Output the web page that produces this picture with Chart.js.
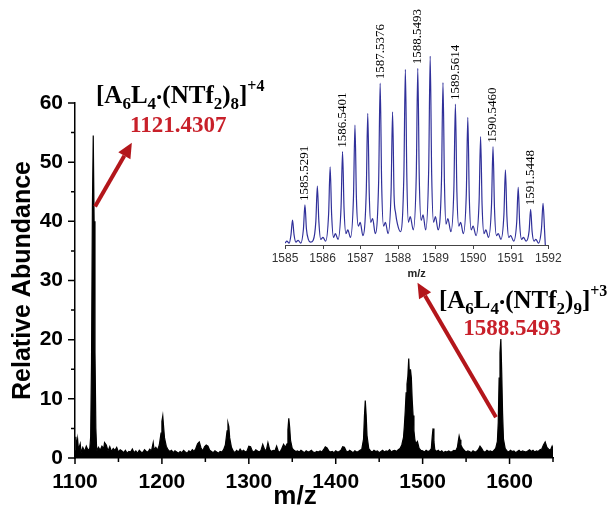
<!DOCTYPE html>
<html>
<head>
<meta charset="utf-8">
<script src="https://cdn.jsdelivr.net/npm/chart.js@4.4.0/dist/chart.umd.min.js"></script>
<style>
  html, body { margin: 0; padding: 0; background: #fff; }
  #wrap { position: relative; width: 611px; height: 506px; }
  #main { position: absolute; left: 0; top: 0; }
  #inset { position: absolute; left: 250px; top: 0; }
</style>
</head>
<body>
<div id="wrap">
  <canvas id="main" width="611" height="506"></canvas>
  <canvas id="inset" width="330" height="290"></canvas>
</div>
<script>
// main spectrum (m/z, relative abundance)
const mainMz = [
  1100, 1101, 1102, 1103, 1104, 1106, 1107, 1109, 1111, 1113, 1115, 1117,
  1118, 1119, 1120, 1121, 1122, 1123, 1124, 1125,
  1127, 1129, 1131, 1133, 1134, 1136, 1138, 1140, 1142, 1144, 1146, 1148,
  1150, 1152, 1154, 1156, 1158, 1160, 1162, 1164, 1166, 1168, 1170, 1172,
  1174, 1176, 1178, 1180, 1182, 1184, 1186, 1188, 1190, 1191, 1193, 1195,
  1197, 1199, 1200, 1201, 1202, 1203, 1205, 1207, 1209, 1211, 1213, 1215,
  1217, 1219, 1221, 1223, 1225, 1227, 1229, 1231, 1233, 1235, 1237, 1239,
  1241, 1243, 1245, 1247, 1249, 1251, 1253, 1255, 1257, 1259, 1261, 1263,
  1265, 1267, 1269, 1271, 1273, 1275, 1276, 1277, 1278, 1280, 1282, 1284,
  1286, 1288, 1290, 1292, 1294, 1296, 1298, 1300, 1302, 1304, 1306, 1308,
  1310, 1312, 1314, 1316, 1318, 1320, 1322, 1324, 1326, 1328, 1330, 1332,
  1334, 1336, 1338, 1340, 1342, 1344, 1345, 1346, 1347, 1348, 1350, 1352,
  1354, 1356, 1358, 1360, 1362, 1364, 1366, 1368, 1370, 1372, 1374, 1376,
  1378, 1380, 1382, 1384, 1386, 1388, 1390, 1392, 1394, 1396, 1398, 1400,
  1402, 1404, 1406, 1408, 1410, 1412, 1414, 1416, 1418, 1420, 1422, 1424,
  1426, 1428, 1430, 1432, 1433, 1434, 1435, 1436, 1438, 1440, 1442, 1444,
  1446, 1448, 1450, 1452, 1454, 1456, 1458, 1460, 1462, 1464, 1466, 1468,
  1470, 1472, 1474, 1476, 1478, 1479, 1480, 1481, 1482, 1483, 1484, 1485,
  1486, 1487, 1488, 1489, 1490, 1491, 1492, 1494, 1496, 1498, 1500, 1502,
  1504, 1506, 1508, 1510, 1511, 1512, 1513, 1514, 1516, 1518, 1520, 1522,
  1524, 1526, 1528, 1530, 1532, 1534, 1536, 1538, 1540, 1541, 1542, 1543,
  1544, 1546, 1548, 1550, 1552, 1554, 1556, 1558, 1560, 1562, 1564, 1566,
  1568, 1570, 1572, 1574, 1576, 1578, 1580, 1582, 1584, 1586, 1587, 1588,
  1589, 1590, 1591, 1592, 1593, 1595, 1597, 1599, 1601, 1603, 1605, 1607,
  1609, 1611, 1613, 1615, 1617, 1619, 1621, 1623, 1625, 1627, 1629, 1631,
  1633, 1635, 1637, 1639, 1641, 1643, 1645, 1647, 1649, 1650
];
const mainAbundance = [
  1.2, 3.6, 2.0, 3.2, 1.4, 2.4, 0.9, 1.8, 1.1, 2.0, 1.3, 1.6,
  3.5, 16, 42, 54.5, 40, 18, 5, 1.2,
  1.8, 1.3, 2.0, 1.6, 2.6, 2.2, 1.2, 1.9, 1.1, 1.6, 1.3, 1.8,
  1.0, 1.4, 1.2, 0.9, 1.3, 0.8, 1.1, 1.0, 1.5, 0.9, 1.2, 0.8,
  1.3, 1.0, 0.9, 1.4, 1.1, 1.0, 1.5, 1.2, 2.6, 1.4, 1.8, 1.3,
  2.2, 4.2, 6.2, 7.1, 5.2, 3.4, 2.0, 1.4, 1.1, 1.3, 0.9, 1.2,
  1.0, 0.8, 1.1, 0.9, 1.3, 1.0, 0.8, 1.2, 1.0, 1.4, 1.1, 1.6,
  2.4, 2.7, 1.7, 1.2, 1.9, 2.2, 2.0, 1.3, 1.1, 0.9, 1.2, 1.0,
  0.8, 1.1, 1.0, 1.4, 2.2, 4.6, 5.9, 5.3, 3.4, 1.8, 1.2, 0.9,
  1.3, 1.0, 1.5, 1.1, 1.3, 1.0, 1.2, 2.0, 1.9, 1.2, 1.0, 1.4,
  1.2, 1.0, 1.3, 2.3, 1.5, 1.2, 2.6, 1.4, 1.1, 1.3, 1.2, 2.0,
  1.1, 1.0, 1.6, 2.3, 1.8, 2.4, 4.8, 6.7, 5.2, 3.0, 1.6, 1.3,
  1.1, 1.2, 1.0, 1.3, 1.1, 0.9, 1.2, 1.0, 1.1, 1.3, 1.0, 0.9,
  1.1, 1.0, 1.2, 1.0, 1.4, 1.9, 1.7, 1.2, 1.0, 1.1, 0.9, 1.2,
  1.0, 1.1, 1.3, 1.9, 1.8, 1.2, 1.0, 1.3, 1.1, 0.9, 1.2, 1.0,
  1.1, 1.3, 1.5, 3.2, 7.0, 9.7, 7.3, 3.8, 1.6, 1.2, 1.0, 1.3,
  1.1, 1.2, 0.9, 1.1, 1.3, 1.0, 1.2, 1.1, 1.4, 1.0, 1.2, 1.3,
  1.1, 1.4, 1.6, 2.2, 3.5, 5.5, 8.0, 11.0, 12.5, 13.8, 16.8, 13.2,
  15.0, 13.6, 9.8, 7.2, 4.6, 3.2, 2.4, 2.8, 1.6, 1.3, 1.2, 1.0,
  1.3, 1.1, 1.2, 1.6, 3.6, 5.0, 2.8, 1.4, 1.1, 1.3, 1.0, 1.2,
  0.9, 1.1, 1.0, 1.2, 1.0, 1.1, 1.3, 1.2, 1.8, 2.8, 3.7, 3.1,
  2.2, 1.6, 1.3, 1.0, 1.2, 1.1, 0.9, 1.2, 1.0, 1.1, 1.4, 2.0,
  1.6, 1.1, 1.0, 1.3, 1.1, 1.2, 1.0, 1.3, 1.6, 2.8, 6.0, 13.5,
  17.8, 20.1, 14.5, 7.5, 3.2, 1.6, 1.2, 1.0, 1.3, 1.1, 1.2, 0.9,
  1.1, 1.3, 1.0, 1.2, 1.1, 1.0, 1.2, 1.4, 1.1, 1.3, 1.0, 1.2,
  1.1, 1.4, 1.5, 2.2, 2.7, 1.8, 1.5, 1.3, 2.0, 1.6
];

// isotope pattern of the +3 ion (inset)
const insetMz = [
  1585.00, 1585.05, 1585.11, 1585.16, 1585.20, 1585.24, 1585.29, 1585.35, 1585.42,
  1585.49, 1585.53, 1585.57, 1585.62, 1585.68, 1585.75,
  1585.82, 1585.86, 1585.90, 1585.95, 1586.01, 1586.08,
  1586.16, 1586.20, 1586.24, 1586.29, 1586.34, 1586.41,
  1586.49, 1586.53, 1586.57, 1586.62, 1586.67, 1586.74,
  1586.82, 1586.86, 1586.90, 1586.95, 1587.00, 1587.07,
  1587.16, 1587.20, 1587.24, 1587.28, 1587.33, 1587.40,
  1587.49, 1587.53, 1587.57, 1587.62, 1587.67, 1587.74,
  1587.82, 1587.86, 1587.90, 1587.94, 1587.99, 1588.07,
  1588.16, 1588.20, 1588.24, 1588.28, 1588.33, 1588.41,
  1588.49, 1588.53, 1588.57, 1588.62, 1588.67, 1588.74,
  1588.82, 1588.86, 1588.90, 1588.95, 1589.00, 1589.07,
  1589.16, 1589.20, 1589.24, 1589.28, 1589.33, 1589.41,
  1589.49, 1589.53, 1589.57, 1589.62, 1589.67, 1589.74,
  1589.82, 1589.86, 1589.90, 1589.95, 1590.00, 1590.08,
  1590.16, 1590.20, 1590.24, 1590.29, 1590.34, 1590.41,
  1590.49, 1590.53, 1590.57, 1590.62, 1590.67, 1590.74,
  1590.82, 1590.86, 1590.90, 1590.95, 1591.00, 1591.08,
  1591.16, 1591.20, 1591.24, 1591.29, 1591.34, 1591.41,
  1591.49, 1591.53, 1591.57, 1591.62, 1591.67, 1591.74,
  1591.82, 1591.86, 1591.90, 1591.92
];
const insetAbundance = [
  1, 2, 1, 5.5, 13.2, 5.5, 1.5, 2.5, 1,
  8.5, 21.2, 8.5, 3, 1.5, 2.5,
  12.5, 31.2, 12.5, 3, 4, 2,
  16.5, 41.4, 16, 4, 6, 3,
  20, 49.4, 19, 6, 8, 4,
  25, 63.5, 24, 10, 12, 5,
  28, 69.7, 27, 12, 14, 6,
  34, 85.6, 32, 10, 12, 6,
  28, 70.5, 26, 17, 11, 7,
  37, 93, 35, 12, 15, 8,
  37, 93.5, 35, 13, 16, 8,
  40, 100, 37, 12, 15, 8,
  34, 85.9, 32, 11, 14, 7,
  30, 74.6, 28, 10, 12, 6,
  27, 67.6, 25, 8, 10, 5,
  23, 57.3, 21, 6, 8, 4,
  21, 52, 19, 5, 6, 3,
  16, 39.7, 15, 4, 5, 2,
  12, 30.5, 11, 3, 4, 2,
  7.5, 18.9, 7, 2, 3, 1,
  9, 22.1, 8, 0
];
const insetPeakMz = [1585.53, 1586.53, 1587.53, 1588.53, 1589.53, 1590.53, 1591.53];
const insetPeakText = ['1585.5291', '1586.5401', '1587.5376', '1588.5493', '1589.5614', '1590.5460', '1591.5448'];

// ion annotations: formula pieces (0 normal, 1 subscript, 2 superscript)
const ion1Formula = [['[A', 0], ['6', 1], ['L', 0], ['4', 1], ['.', 0], ['(NTf', 0], ['2', 1], [')', 0], ['8', 1], [']', 0], ['+4', 2]];
const ion2Formula = [['[A', 0], ['6', 1], ['L', 0], ['4', 1], ['.', 0], ['(NTf', 0], ['2', 1], [')', 0], ['9', 1], [']', 0], ['+3', 2]];
const ionMass = ['1121.4307', '1588.5493'];
// anchors in data units: formula start, mass centre, arrow tail, arrow head
const ionFormulaAt = [[1124.2, 60.0], [1518.7, 25.3]];
const ionMassAt = [[1218.8, 55.1], [1602.9, 20.8]];
const arrowFrom = [[1123.1, 42.5], [1584.4, 6.9]];
const arrowTo = [[1165.4, 53.3], [1494.1, 29.6]];

const SANS = "'Liberation Sans', Arial, sans-serif";
const SERIF = "'Liberation Serif', 'Times New Roman', serif";

function drawArrow(ctx, x1, y1, x2, y2, color) {
  const ang = Math.atan2(y2 - y1, x2 - x1);
  const head = 15, half = 7;
  const bx = x2 - head * Math.cos(ang), by = y2 - head * Math.sin(ang);
  ctx.strokeStyle = color;
  ctx.lineWidth = 4;
  ctx.beginPath();
  ctx.moveTo(x1, y1);
  ctx.lineTo(bx, by);
  ctx.stroke();
  ctx.fillStyle = color;
  ctx.beginPath();
  ctx.moveTo(x2, y2);
  ctx.lineTo(bx + half * Math.sin(ang), by - half * Math.cos(ang));
  ctx.lineTo(bx - half * Math.sin(ang), by + half * Math.cos(ang));
  ctx.closePath();
  ctx.fill();
}

function drawFormula(ctx, parts, x, y) {
  let cx = x;
  ctx.fillStyle = '#000';
  ctx.textAlign = 'left';
  ctx.textBaseline = 'alphabetic';
  parts.forEach(([txt, kind]) => {
    let size = 25, dy = 0;
    if (kind === 1) { size = 17; dy = 6; }
    if (kind === 2) { size = 16; dy = -12; }
    if (txt === '.') dy = -4;
    ctx.font = 'bold ' + size + 'px ' + SERIF;
    ctx.fillText(txt, cx, y + dy);
    cx += ctx.measureText(txt).width;
  });
}

const mainDecor = {
  id: 'mainDecor',
  afterDraw(chart) {
    const { ctx, chartArea: a, scales: { x, y } } = chart;
    ctx.save();
    // tick marks, major longer than minor
    ctx.strokeStyle = '#000';
    ctx.lineWidth = 1.5;
    ctx.beginPath();
    x.ticks.forEach(t => {
      const px = x.getPixelForValue(t.value);
      const len = t.value % 100 === 0 ? 6 : 4;
      ctx.moveTo(px, a.bottom);
      ctx.lineTo(px, a.bottom + len);
    });
    y.ticks.forEach(t => {
      const py = y.getPixelForValue(t.value);
      const len = t.value % 10 === 0 ? 7 : 4;
      ctx.moveTo(a.left, py);
      ctx.lineTo(a.left - len, py);
    });
    ctx.stroke();

    // arrows + ion labels
    for (let i = 0; i < 2; i++) {
      drawArrow(ctx,
        x.getPixelForValue(arrowFrom[i][0]), y.getPixelForValue(arrowFrom[i][1]),
        x.getPixelForValue(arrowTo[i][0]), y.getPixelForValue(arrowTo[i][1]), '#b3161b');
    }
    drawFormula(ctx, ion1Formula, x.getPixelForValue(ionFormulaAt[0][0]), y.getPixelForValue(ionFormulaAt[0][1]));
    drawFormula(ctx, ion2Formula, x.getPixelForValue(ionFormulaAt[1][0]), y.getPixelForValue(ionFormulaAt[1][1]));
    ctx.fillStyle = '#c8202a';
    ctx.font = 'bold 23px ' + SERIF;
    ctx.textAlign = 'center';
    ionMass.forEach((m, i) => {
      ctx.fillText(m, x.getPixelForValue(ionMassAt[i][0]), y.getPixelForValue(ionMassAt[i][1]));
    });

    // x axis title, sits a bit left of centre in the original
    ctx.fillStyle = '#000';
    ctx.font = 'bold 26px ' + SANS;
    ctx.fillText('m/z', (a.left + a.right) / 2 - 19, 504);
    ctx.restore();
  }
};

new Chart(document.getElementById('main'), {
  type: 'line',
  data: {
    datasets: [{
      data: mainMz.map((m, i) => ({ x: m, y: mainAbundance[i] })),
      borderColor: '#000',
      backgroundColor: '#000',
      borderWidth: 1.2,
      pointRadius: 0,
      fill: 'origin',
      tension: 0
    }]
  },
  options: {
    responsive: false,
    animation: false,
    layout: { padding: { left: 0, right: 58, top: 103, bottom: 0 } },
    plugins: { legend: { display: false }, tooltip: { enabled: false } },
    scales: {
      x: {
        type: 'linear', min: 1100, max: 1650,
        afterFit: s => { s.height = 48; },
        grid: { display: false, drawTicks: false },
        border: { display: true, color: '#000', width: 1.5 },
        ticks: {
          stepSize: 50, padding: 12, autoSkip: false, maxRotation: 0, color: '#000',
          font: { family: SANS, size: 21, weight: 'bold' },
          callback: v => (v % 100 === 0 ? String(v) : '')
        }
      },
      y: {
        min: 0, max: 60,
        afterFit: s => { s.width = 75; },
        grid: { display: false, drawTicks: false },
        border: { display: true, color: '#000', width: 1.5 },
        ticks: {
          stepSize: 5, padding: 12, color: '#000',
          font: { family: SANS, size: 21, weight: 'bold' },
          callback: v => (v % 10 === 0 ? String(v) : '')
        },
        title: {
          display: true, text: 'Relative Abundance', color: '#000',
          font: { family: SANS, size: 25, weight: 'bold' },
          padding: { top: 8, bottom: 0 }
        }
      }
    }
  },
  plugins: [mainDecor]
});

const insetDecor = {
  id: 'insetDecor',
  afterDraw(chart) {
    const { ctx, chartArea: a, scales: { x, y } } = chart;
    ctx.save();
    ctx.strokeStyle = '#444';
    ctx.lineWidth = 1;
    ctx.beginPath();
    x.ticks.forEach(t => {
      const px = Math.round(x.getPixelForValue(t.value)) + 0.5;
      ctx.moveTo(px, a.bottom);
      ctx.lineTo(px, a.bottom + 4);
    });
    ctx.stroke();
    ctx.fillStyle = '#000';
    ctx.font = '13px ' + SERIF;
    ctx.textAlign = 'left';
    ctx.textBaseline = 'middle';
    insetPeakMz.forEach((m, i) => {
      const v = insetAbundance[insetMz.indexOf(m)];
      ctx.save();
      ctx.translate(x.getPixelForValue(m), y.getPixelForValue(v) - 4);
      ctx.rotate(-Math.PI / 2);
      ctx.fillText(insetPeakText[i], 0, 0);
      ctx.restore();
    });
    ctx.restore();
  }
};

new Chart(document.getElementById('inset'), {
  type: 'line',
  data: {
    datasets: [{
      data: insetMz.map((m, i) => ({ x: m, y: insetAbundance[i] })),
      borderColor: '#30309a',
      borderWidth: 1.2,
      pointRadius: 0,
      fill: false,
      cubicInterpolationMode: 'monotone'
    }]
  },
  options: {
    responsive: false,
    animation: false,
    layout: { padding: { left: 35, right: 31.7, top: 56, bottom: 0 } },
    plugins: { legend: { display: false }, tooltip: { enabled: false } },
    scales: {
      x: {
        type: 'linear', min: 1585, max: 1592,
        afterFit: s => { s.height = 45; },
        grid: { display: false, drawTicks: false },
        border: { display: true, color: '#444', width: 1 },
        ticks: {
          stepSize: 1, padding: 6, color: '#333', maxRotation: 0,
          font: { family: SANS, size: 12 },
          callback: v => String(v)
        },
        title: {
          display: true, text: 'm/z', color: '#222',
          font: { family: SANS, size: 11, weight: 'bold' },
          padding: { top: 0, bottom: 9 }
        }
      },
      y: { display: false, min: 0, max: 100 }
    }
  },
  plugins: [insetDecor]
});
</script>
</body>
</html>
